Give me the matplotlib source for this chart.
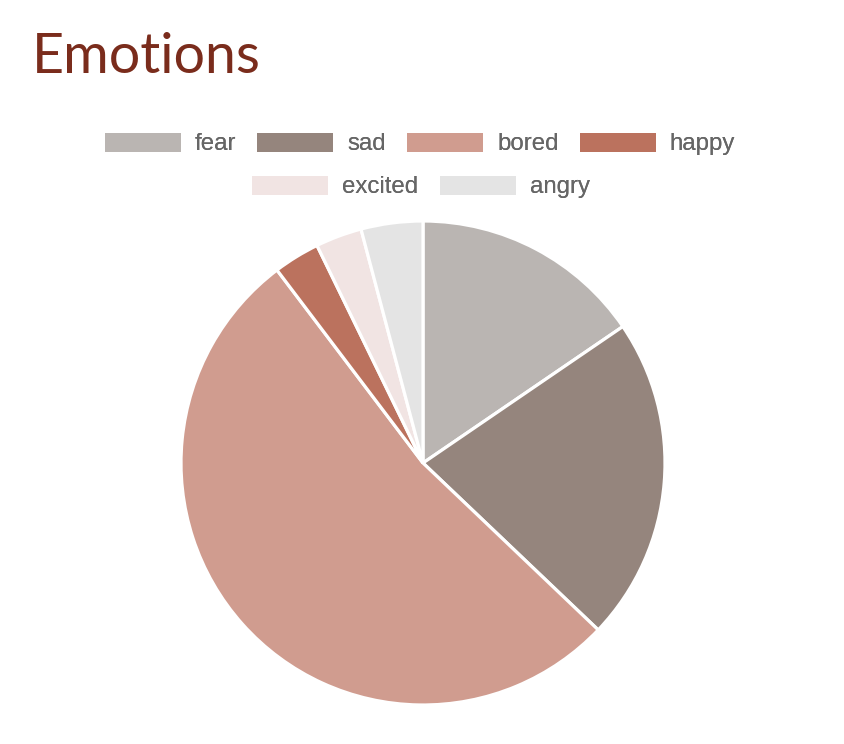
import matplotlib.pyplot as plt
from matplotlib.patches import Patch

labels = ["fear", "sad", "bored", "happy", "excited", "angry"]
counts = [15, 21, 51, 3, 3, 4]
colors = ["#bab5b2", "#95857d", "#d09c8f", "#bb725e", "#f1e4e3", "#e4e4e4"]

W, H = 844, 744
fig = plt.figure(figsize=(W / 100, H / 100), dpi=100)

# title
fig.text(32 / W, 1 - 73 / H, "Emotions", fontsize=40, family="Lato",
         fontweight="normal", color="#7a2c1c", ha="left", va="baseline")

# pie, clockwise from 12 o'clock
ax = fig.add_axes([181 / W, 1 - 705 / H, 484 / W, 484 / H])
ax.pie(counts, colors=colors, startangle=90, counterclock=False,
       wedgeprops=dict(edgecolor="white", linewidth=2.3))
ax.set_xlim(-1, 1)
ax.set_ylim(-1, 1)
ax.set_aspect("equal")
ax.axis("off")

# legend in two centred rows like chart.js
fs = 17.3
handles = [Patch(facecolor=c, edgecolor="none") for c in colors]
rows = [(0, 4, 144, 420), (4, 6, 187, 421)]
for a, b, yc, xc in rows:
    leg = fig.legend(handles[a:b], labels[a:b], loc="center",
                     bbox_to_anchor=(xc / W, 1 - yc / H), ncol=b - a,
                     frameon=False, prop={"family": "Liberation Sans", "size": fs},
                     labelcolor="#666666", handlelength=76 / 24, handleheight=20 / 24,
                     handletextpad=14 / 24, columnspacing=21 / 24,
                     borderpad=0, borderaxespad=0)
    fig.add_artist(leg)

fig.savefig("out.png", dpi=100)
